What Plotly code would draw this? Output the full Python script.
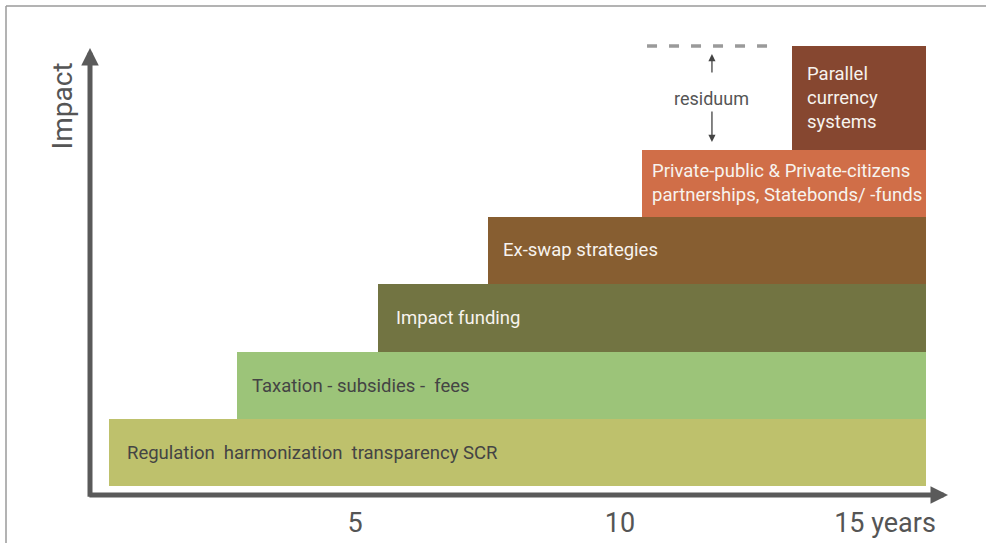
import plotly.graph_objects as go

# ---- data ----
measures = [
    "Regulation  harmonization  transparency SCR",
    "Taxation - subsidies -  fees",
    "Impact funding",
    "Ex-swap strategies",
    "Private-public & Private-citizens<br>partnerships, Statebonds/ -funds",
    "Parallel<br>currency<br>systems",
]
start_year = [0.36, 2.77, 5.43, 7.51, 10.42, 13.25]
end_year = [15.77, 15.77, 15.77, 15.77, 15.77, 15.77]
impact_low = [0.13, 1.13, 2.13, 3.15, 4.15, 5.15]
impact_high = [1.13, 2.13, 3.15, 4.15, 5.15, 6.70]
tick_vals = [5, 10, 15]
tick_text = ["5", "10", "15 years"]
residuum_span = [10.51, 12.96]

# ---- style ----
bar_colors = ["#BEC16C", "#9CC479", "#727442", "#875E31", "#D06E48", "#864730"]
text_colors = ["#444444", "#444444", "#F7F3EE", "#F7F3EE", "#F7F3EE", "#F7F3EE"]
text_pad = [16, 13, 16, 13, 8, 13]
FONT = "Roboto"
AXIS_COL = "#5A5A5A"

W, H = 986, 543
L, R, T, B = 90, 38, 40, 48
x_max = (W - L - R) / 53.0
y_max = (H - T - B) / 67.0

fig = go.Figure()
fig.add_trace(go.Bar(
    orientation="h",
    y=[(lo + hi) / 2 for lo, hi in zip(impact_low, impact_high)],
    x=[e - s for s, e in zip(start_year, end_year)],
    base=start_year,
    width=[hi - lo for lo, hi in zip(impact_low, impact_high)],
    marker=dict(color=bar_colors, line=dict(width=0)),
    hoverinfo="skip",
    showlegend=False,
))

ann = []
for name, s, lo, hi, tc, pad in zip(measures, start_year, impact_low, impact_high, text_colors, text_pad):
    ann.append(dict(x=s, y=(lo + hi) / 2, xref="x", yref="y", text=name, showarrow=False,
                    xanchor="left", yanchor="middle", align="left", xshift=pad,
                    font=dict(family=FONT, size=18.5, color=tc)))

# axes with arrow heads
ann.append(dict(x=x_max, y=0, ax=-0.04, ay=0, xref="x", yref="y", axref="x", ayref="y",
                text="", showarrow=True, arrowhead=2, arrowsize=0.7, arrowwidth=5, arrowcolor=AXIS_COL))
ann.append(dict(x=0, y=impact_high[-1] - 0.03, ax=0, ay=-0.05, xref="x", yref="y", axref="x", ayref="y",
                text="", showarrow=True, arrowhead=2, arrowsize=0.7, arrowwidth=5, arrowcolor=AXIS_COL))
# y-axis title
ann.append(dict(x=0, y=5.80, xref="x", yref="y", text="Impact", showarrow=False, textangle=-90,
                xshift=-28, font=dict(family=FONT, size=28, color="#555555")))

# residuum
xm = (residuum_span[0] + residuum_span[1]) / 2
ann.append(dict(x=xm, y=(impact_high[-1] + impact_high[-2]) / 2, xref="x", yref="y", text="residuum",
                showarrow=False, font=dict(family=FONT, size=18, color="#555555")))
ann.append(dict(x=xm, y=impact_high[-1], xref="x", yref="y", ax=0, ay=28, text="", showarrow=True,
                arrowhead=2, arrowsize=1.1, arrowwidth=1.3, arrowcolor="#444444", standoff=8))
ann.append(dict(x=xm, y=impact_high[-2], xref="x", yref="y", ax=0, ay=-40, text="", showarrow=True,
                arrowhead=2, arrowsize=1.1, arrowwidth=1.3, arrowcolor="#444444", standoff=8))

shapes = [
    dict(type="line", xref="x", yref="y", x0=residuum_span[0], x1=residuum_span[1],
         y0=impact_high[-1], y1=impact_high[-1], line=dict(color="#9A9A9A", width=3.5, dash="10px,12px")),
    # frame (top & left)
    dict(type="line", xref="paper", yref="paper",
         x0=(6 - L) / (W - L - R), x1=(986 - L) / (W - L - R),
         y0=(H - B - 6) / (H - T - B), y1=(H - B - 6) / (H - T - B),
         line=dict(color="#9A9A9A", width=1.5)),
    dict(type="line", xref="paper", yref="paper",
         x0=(6 - L) / (W - L - R), x1=(6 - L) / (W - L - R),
         y0=(H - B - 6) / (H - T - B), y1=-B / (H - T - B) - 0.01,
         line=dict(color="#9A9A9A", width=1.5)),
]

fig.update_layout(
    width=W, height=H,
    margin=dict(l=L, r=R, t=T, b=B, pad=0, autoexpand=False),
    paper_bgcolor="white", plot_bgcolor="white",
    annotations=ann, shapes=shapes,
    bargap=0,
    xaxis=dict(range=[0, x_max], showgrid=False, zeroline=False, showline=False, automargin=False,
               tickvals=tick_vals, ticktext=tick_text, ticks="", ticklabelstandoff=9,
               tickfont=dict(family=FONT, size=27, color="#555555"), fixedrange=True),
    yaxis=dict(range=[0, y_max], showgrid=False, zeroline=False, showline=False, automargin=False,
               showticklabels=False, ticks="", fixedrange=True),
)

fig.write_html("out.html", config={"displayModeBar": False},
               post_script="document.body.style.margin='0px';document.body.style.overflow='hidden';")
